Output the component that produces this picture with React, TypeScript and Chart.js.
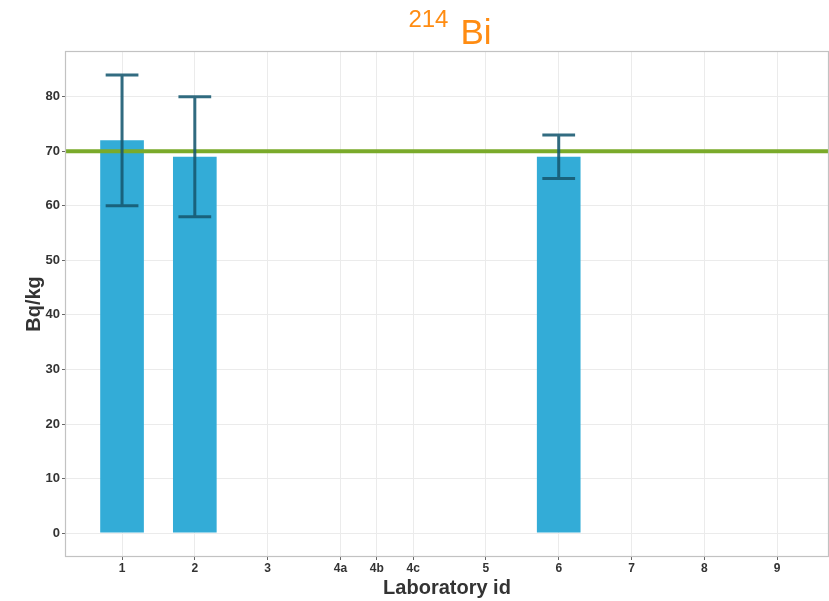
import React, { useEffect, useRef } from 'react';
import { Chart, registerables } from 'chart.js';

Chart.register(...registerables);

// Category axis: labels and their positions on the numeric x axis (4a/4b/4c are packed closer)
const categoryLabels = ['1', '2', '3', '4a', '4b', '4c', '5', '6', '7', '8', '9'];
const categoryPositions = [1, 2, 3, 4, 4.5, 5, 6, 7, 8, 9, 10];

// Laboratory results
const labLabels = ['1', '2', '6'];
const labValues = [72, 69, 69];
const labLower = [60, 58, 65];
const labUpper = [84, 80, 73];

// Reference value (green line)
const referenceValue = 70;

// Y ticks
const yTicks = [0, 10, 20, 30, 40, 50, 60, 70, 80];

// Title parts
const titleSup = '214';
const titleMain = 'Bi';
const xTitle = 'Laboratory id';
const yTitle = 'Bq/kg';

const FONT = "'Liberation Sans', Arial, sans-serif";

const posOf = (lab: string) => categoryPositions[categoryLabels.indexOf(lab)];

const decorPlugin = {
  id: 'decor',
  afterDatasetsDraw(chart: any) {
    const { ctx, chartArea: a, scales } = chart;
    const x = scales.x;
    const y = scales.y;
    ctx.save();
    // reference line
    const yr = y.getPixelForValue(referenceValue);
    ctx.beginPath();
    ctx.strokeStyle = '#7aaa2a';
    ctx.lineWidth = 4;
    ctx.moveTo(a.left, yr);
    ctx.lineTo(a.right, yr);
    ctx.stroke();
    // error bars
    ctx.strokeStyle = 'rgba(22,88,112,0.88)';
    ctx.lineWidth = 3;
    labLabels.forEach((lab, i) => {
      const pos = posOf(lab);
      const cx = x.getPixelForValue(pos);
      const hw = x.getPixelForValue(pos + 0.225) - cx;
      const y1 = y.getPixelForValue(labLower[i]);
      const y2 = y.getPixelForValue(labUpper[i]);
      ctx.beginPath();
      ctx.moveTo(cx, y1);
      ctx.lineTo(cx, y2);
      ctx.moveTo(cx - hw, y1);
      ctx.lineTo(cx + hw, y1);
      ctx.moveTo(cx - hw, y2);
      ctx.lineTo(cx + hw, y2);
      ctx.stroke();
    });
    // panel border
    ctx.strokeStyle = '#c2c2c2';
    ctx.lineWidth = 1.2;
    ctx.strokeRect(a.left - 0.5, a.top - 0.5, a.right - a.left + 1, a.bottom - a.top + 1);
    ctx.restore();
  },
  afterDraw(chart: any) {
    const { ctx, chartArea: a } = chart;
    ctx.save();
    const cx = (a.left + a.right) / 2;
    // main title with superscript
    ctx.fillStyle = '#ff8c12';
    ctx.textBaseline = 'alphabetic';
    ctx.textAlign = 'left';
    ctx.font = `24px ${FONT}`;
    const wSup = ctx.measureText(titleSup).width;
    ctx.font = `35px ${FONT}`;
    const wMain = ctx.measureText(titleMain).width;
    const gap = 12;
    const start = cx - (wSup + gap + wMain) / 2 + 3;
    ctx.font = `24px ${FONT}`;
    ctx.fillText(titleSup, start, 27);
    ctx.font = `35px ${FONT}`;
    ctx.fillText(titleMain, start + wSup + gap, 44);
    // x title
    ctx.fillStyle = '#333333';
    ctx.font = `bold 20px ${FONT}`;
    ctx.textAlign = 'center';
    ctx.fillText(xTitle, cx, 594);
    // y title
    const cy = (a.top + a.bottom) / 2;
    ctx.translate(39.5, cy);
    ctx.rotate(-Math.PI / 2);
    ctx.fillText(yTitle, 0, 0);
    ctx.restore();
  },
};

export default function App() {
  const ref = useRef<HTMLCanvasElement>(null);
  useEffect(() => {
    const canvas = ref.current!;
    const chart = new Chart(canvas, {
      type: 'bar',
      data: {
        datasets: [
          {
            label: 'Laboratory',
            data: labLabels.map((lab, i) => ({ x: posOf(lab), y: labValues[i] })),
            backgroundColor: '#33acd7',
            borderWidth: 0,
            categoryPercentage: 1.2,
            barPercentage: 1,
          } as any,
        ],
      },
      options: {
        animation: false,
        responsive: false,
        devicePixelRatio: 1,
        layout: { padding: { top: 52, right: 1, left: 0, bottom: 0 } },
        plugins: {
          legend: { display: false },
          tooltip: { enabled: false },
          title: { display: false },
        },
        scales: {
          x: {
            type: 'linear',
            min: 0.23,
            max: 10.7,
            offset: false,
            afterBuildTicks: (s: any) => {
              s.ticks = categoryPositions.map((v) => ({ value: v }));
            },
            afterFit: (s: any) => {
              s.height = 45;
            },
            ticks: {
              autoSkip: false,
              maxRotation: 0,
              padding: 1,
              color: '#333333',
              font: { family: FONT, size: 12, weight: 'bold' },
              callback: (v: any) => {
                const idx = categoryPositions.indexOf(Number(v));
                return idx >= 0 ? categoryLabels[idx] : '';
              },
            },
            grid: {
              offset: false,
              color: '#ebebeb',
              lineWidth: 1,
              drawTicks: true,
              tickLength: 4,
              tickColor: '#666666',
            },
            border: { display: false },
          },
          y: {
            type: 'linear',
            min: -4.2,
            max: 88.2,
            afterBuildTicks: (s: any) => {
              s.ticks = yTicks.map((v) => ({ value: v }));
            },
            afterFit: (s: any) => {
              s.width = 66;
            },
            ticks: {
              padding: 2,
              color: '#333333',
              font: { family: FONT, size: 13, weight: 'bold' },
            },
            grid: {
              color: '#ebebeb',
              lineWidth: 1,
              drawTicks: true,
              tickLength: 4,
              tickColor: '#666666',
            },
            border: { display: false },
          },
        },
      } as any,
      plugins: [decorPlugin],
    });
    return () => chart.destroy();
  }, []);
  return (
    <div style={{ position: 'fixed', left: 0, top: 0, width: 829, height: 601, background: '#ffffff' }}>
      <canvas ref={ref} width={829} height={601} style={{ display: 'block', width: 829, height: 601 }} />
    </div>
  );
}
